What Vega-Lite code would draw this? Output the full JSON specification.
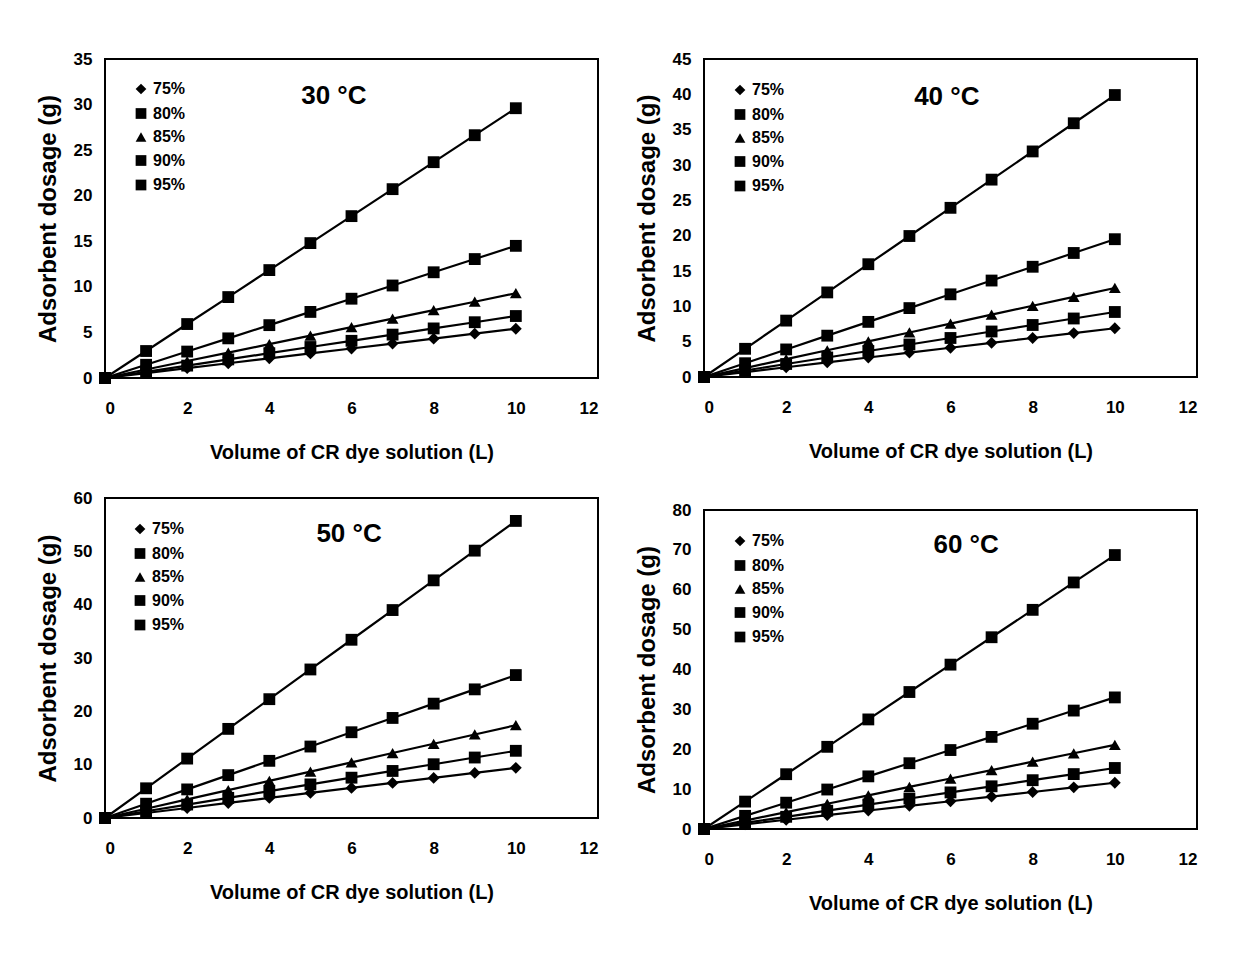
{
  "$schema": "https://vega.github.io/schema/vega-lite/v6.json",
  "padding": {"left": 35, "top": 49, "right": 5, "bottom": 5},
  "background": "white",
  "datasets": {
    "d": [
      {"t":30,"s":"75%","x":0,"y":0},{"t":30,"s":"75%","x":1,"y":0.54},{"t":30,"s":"75%","x":2,"y":1.08},{"t":30,"s":"75%","x":3,"y":1.62},{"t":30,"s":"75%","x":4,"y":2.16},{"t":30,"s":"75%","x":5,"y":2.7},{"t":30,"s":"75%","x":6,"y":3.24},{"t":30,"s":"75%","x":7,"y":3.78},{"t":30,"s":"75%","x":8,"y":4.32},{"t":30,"s":"75%","x":9,"y":4.86},{"t":30,"s":"75%","x":10,"y":5.4},
      {"t":30,"s":"80%","x":0,"y":0},{"t":30,"s":"80%","x":1,"y":0.68},{"t":30,"s":"80%","x":2,"y":1.36},{"t":30,"s":"80%","x":3,"y":2.04},{"t":30,"s":"80%","x":4,"y":2.72},{"t":30,"s":"80%","x":5,"y":3.4},{"t":30,"s":"80%","x":6,"y":4.08},{"t":30,"s":"80%","x":7,"y":4.76},{"t":30,"s":"80%","x":8,"y":5.44},{"t":30,"s":"80%","x":9,"y":6.12},{"t":30,"s":"80%","x":10,"y":6.8},
      {"t":30,"s":"85%","x":0,"y":0},{"t":30,"s":"85%","x":1,"y":0.93},{"t":30,"s":"85%","x":2,"y":1.86},{"t":30,"s":"85%","x":3,"y":2.79},{"t":30,"s":"85%","x":4,"y":3.72},{"t":30,"s":"85%","x":5,"y":4.65},{"t":30,"s":"85%","x":6,"y":5.58},{"t":30,"s":"85%","x":7,"y":6.51},{"t":30,"s":"85%","x":8,"y":7.44},{"t":30,"s":"85%","x":9,"y":8.37},{"t":30,"s":"85%","x":10,"y":9.3},
      {"t":30,"s":"90%","x":0,"y":0},{"t":30,"s":"90%","x":1,"y":1.45},{"t":30,"s":"90%","x":2,"y":2.9},{"t":30,"s":"90%","x":3,"y":4.35},{"t":30,"s":"90%","x":4,"y":5.8},{"t":30,"s":"90%","x":5,"y":7.25},{"t":30,"s":"90%","x":6,"y":8.7},{"t":30,"s":"90%","x":7,"y":10.15},{"t":30,"s":"90%","x":8,"y":11.6},{"t":30,"s":"90%","x":9,"y":13.05},{"t":30,"s":"90%","x":10,"y":14.5},
      {"t":30,"s":"95%","x":0,"y":0},{"t":30,"s":"95%","x":1,"y":2.96},{"t":30,"s":"95%","x":2,"y":5.92},{"t":30,"s":"95%","x":3,"y":8.88},{"t":30,"s":"95%","x":4,"y":11.84},{"t":30,"s":"95%","x":5,"y":14.8},{"t":30,"s":"95%","x":6,"y":17.76},{"t":30,"s":"95%","x":7,"y":20.72},{"t":30,"s":"95%","x":8,"y":23.68},{"t":30,"s":"95%","x":9,"y":26.64},{"t":30,"s":"95%","x":10,"y":29.6},
      {"t":40,"s":"75%","x":0,"y":0},{"t":40,"s":"75%","x":1,"y":0.69},{"t":40,"s":"75%","x":2,"y":1.38},{"t":40,"s":"75%","x":3,"y":2.07},{"t":40,"s":"75%","x":4,"y":2.76},{"t":40,"s":"75%","x":5,"y":3.45},{"t":40,"s":"75%","x":6,"y":4.14},{"t":40,"s":"75%","x":7,"y":4.83},{"t":40,"s":"75%","x":8,"y":5.52},{"t":40,"s":"75%","x":9,"y":6.21},{"t":40,"s":"75%","x":10,"y":6.9},
      {"t":40,"s":"80%","x":0,"y":0},{"t":40,"s":"80%","x":1,"y":0.92},{"t":40,"s":"80%","x":2,"y":1.84},{"t":40,"s":"80%","x":3,"y":2.76},{"t":40,"s":"80%","x":4,"y":3.68},{"t":40,"s":"80%","x":5,"y":4.6},{"t":40,"s":"80%","x":6,"y":5.52},{"t":40,"s":"80%","x":7,"y":6.44},{"t":40,"s":"80%","x":8,"y":7.36},{"t":40,"s":"80%","x":9,"y":8.28},{"t":40,"s":"80%","x":10,"y":9.2},
      {"t":40,"s":"85%","x":0,"y":0},{"t":40,"s":"85%","x":1,"y":1.26},{"t":40,"s":"85%","x":2,"y":2.52},{"t":40,"s":"85%","x":3,"y":3.78},{"t":40,"s":"85%","x":4,"y":5.04},{"t":40,"s":"85%","x":5,"y":6.3},{"t":40,"s":"85%","x":6,"y":7.56},{"t":40,"s":"85%","x":7,"y":8.82},{"t":40,"s":"85%","x":8,"y":10.08},{"t":40,"s":"85%","x":9,"y":11.34},{"t":40,"s":"85%","x":10,"y":12.6},
      {"t":40,"s":"90%","x":0,"y":0},{"t":40,"s":"90%","x":1,"y":1.95},{"t":40,"s":"90%","x":2,"y":3.9},{"t":40,"s":"90%","x":3,"y":5.85},{"t":40,"s":"90%","x":4,"y":7.8},{"t":40,"s":"90%","x":5,"y":9.75},{"t":40,"s":"90%","x":6,"y":11.7},{"t":40,"s":"90%","x":7,"y":13.65},{"t":40,"s":"90%","x":8,"y":15.6},{"t":40,"s":"90%","x":9,"y":17.55},{"t":40,"s":"90%","x":10,"y":19.5},
      {"t":40,"s":"95%","x":0,"y":0},{"t":40,"s":"95%","x":1,"y":3.99},{"t":40,"s":"95%","x":2,"y":7.98},{"t":40,"s":"95%","x":3,"y":11.97},{"t":40,"s":"95%","x":4,"y":15.96},{"t":40,"s":"95%","x":5,"y":19.95},{"t":40,"s":"95%","x":6,"y":23.94},{"t":40,"s":"95%","x":7,"y":27.93},{"t":40,"s":"95%","x":8,"y":31.92},{"t":40,"s":"95%","x":9,"y":35.91},{"t":40,"s":"95%","x":10,"y":39.9},
      {"t":50,"s":"75%","x":0,"y":0},{"t":50,"s":"75%","x":1,"y":0.94},{"t":50,"s":"75%","x":2,"y":1.88},{"t":50,"s":"75%","x":3,"y":2.82},{"t":50,"s":"75%","x":4,"y":3.76},{"t":50,"s":"75%","x":5,"y":4.7},{"t":50,"s":"75%","x":6,"y":5.64},{"t":50,"s":"75%","x":7,"y":6.58},{"t":50,"s":"75%","x":8,"y":7.52},{"t":50,"s":"75%","x":9,"y":8.46},{"t":50,"s":"75%","x":10,"y":9.4},
      {"t":50,"s":"80%","x":0,"y":0},{"t":50,"s":"80%","x":1,"y":1.26},{"t":50,"s":"80%","x":2,"y":2.52},{"t":50,"s":"80%","x":3,"y":3.78},{"t":50,"s":"80%","x":4,"y":5.04},{"t":50,"s":"80%","x":5,"y":6.3},{"t":50,"s":"80%","x":6,"y":7.56},{"t":50,"s":"80%","x":7,"y":8.82},{"t":50,"s":"80%","x":8,"y":10.08},{"t":50,"s":"80%","x":9,"y":11.34},{"t":50,"s":"80%","x":10,"y":12.6},
      {"t":50,"s":"85%","x":0,"y":0},{"t":50,"s":"85%","x":1,"y":1.74},{"t":50,"s":"85%","x":2,"y":3.48},{"t":50,"s":"85%","x":3,"y":5.22},{"t":50,"s":"85%","x":4,"y":6.96},{"t":50,"s":"85%","x":5,"y":8.7},{"t":50,"s":"85%","x":6,"y":10.44},{"t":50,"s":"85%","x":7,"y":12.18},{"t":50,"s":"85%","x":8,"y":13.92},{"t":50,"s":"85%","x":9,"y":15.66},{"t":50,"s":"85%","x":10,"y":17.4},
      {"t":50,"s":"90%","x":0,"y":0},{"t":50,"s":"90%","x":1,"y":2.68},{"t":50,"s":"90%","x":2,"y":5.36},{"t":50,"s":"90%","x":3,"y":8.04},{"t":50,"s":"90%","x":4,"y":10.72},{"t":50,"s":"90%","x":5,"y":13.4},{"t":50,"s":"90%","x":6,"y":16.08},{"t":50,"s":"90%","x":7,"y":18.76},{"t":50,"s":"90%","x":8,"y":21.44},{"t":50,"s":"90%","x":9,"y":24.12},{"t":50,"s":"90%","x":10,"y":26.8},
      {"t":50,"s":"95%","x":0,"y":0},{"t":50,"s":"95%","x":1,"y":5.57},{"t":50,"s":"95%","x":2,"y":11.14},{"t":50,"s":"95%","x":3,"y":16.71},{"t":50,"s":"95%","x":4,"y":22.28},{"t":50,"s":"95%","x":5,"y":27.85},{"t":50,"s":"95%","x":6,"y":33.42},{"t":50,"s":"95%","x":7,"y":38.99},{"t":50,"s":"95%","x":8,"y":44.56},{"t":50,"s":"95%","x":9,"y":50.13},{"t":50,"s":"95%","x":10,"y":55.7},
      {"t":60,"s":"75%","x":0,"y":0},{"t":60,"s":"75%","x":1,"y":1.16},{"t":60,"s":"75%","x":2,"y":2.32},{"t":60,"s":"75%","x":3,"y":3.48},{"t":60,"s":"75%","x":4,"y":4.64},{"t":60,"s":"75%","x":5,"y":5.8},{"t":60,"s":"75%","x":6,"y":6.96},{"t":60,"s":"75%","x":7,"y":8.12},{"t":60,"s":"75%","x":8,"y":9.28},{"t":60,"s":"75%","x":9,"y":10.44},{"t":60,"s":"75%","x":10,"y":11.6},
      {"t":60,"s":"80%","x":0,"y":0},{"t":60,"s":"80%","x":1,"y":1.53},{"t":60,"s":"80%","x":2,"y":3.06},{"t":60,"s":"80%","x":3,"y":4.59},{"t":60,"s":"80%","x":4,"y":6.12},{"t":60,"s":"80%","x":5,"y":7.65},{"t":60,"s":"80%","x":6,"y":9.18},{"t":60,"s":"80%","x":7,"y":10.71},{"t":60,"s":"80%","x":8,"y":12.24},{"t":60,"s":"80%","x":9,"y":13.77},{"t":60,"s":"80%","x":10,"y":15.3},
      {"t":60,"s":"85%","x":0,"y":0},{"t":60,"s":"85%","x":1,"y":2.11},{"t":60,"s":"85%","x":2,"y":4.22},{"t":60,"s":"85%","x":3,"y":6.33},{"t":60,"s":"85%","x":4,"y":8.44},{"t":60,"s":"85%","x":5,"y":10.55},{"t":60,"s":"85%","x":6,"y":12.66},{"t":60,"s":"85%","x":7,"y":14.77},{"t":60,"s":"85%","x":8,"y":16.88},{"t":60,"s":"85%","x":9,"y":18.99},{"t":60,"s":"85%","x":10,"y":21.1},
      {"t":60,"s":"90%","x":0,"y":0},{"t":60,"s":"90%","x":1,"y":3.3},{"t":60,"s":"90%","x":2,"y":6.6},{"t":60,"s":"90%","x":3,"y":9.9},{"t":60,"s":"90%","x":4,"y":13.2},{"t":60,"s":"90%","x":5,"y":16.5},{"t":60,"s":"90%","x":6,"y":19.8},{"t":60,"s":"90%","x":7,"y":23.1},{"t":60,"s":"90%","x":8,"y":26.4},{"t":60,"s":"90%","x":9,"y":29.7},{"t":60,"s":"90%","x":10,"y":33},
      {"t":60,"s":"95%","x":0,"y":0},{"t":60,"s":"95%","x":1,"y":6.87},{"t":60,"s":"95%","x":2,"y":13.74},{"t":60,"s":"95%","x":3,"y":20.61},{"t":60,"s":"95%","x":4,"y":27.48},{"t":60,"s":"95%","x":5,"y":34.35},{"t":60,"s":"95%","x":6,"y":41.22},{"t":60,"s":"95%","x":7,"y":48.09},{"t":60,"s":"95%","x":8,"y":54.96},{"t":60,"s":"95%","x":9,"y":61.83},{"t":60,"s":"95%","x":10,"y":68.7}
    ]
  },
  "spacing": 35,
  "resolve": {"scale": {"x": "independent", "y": "independent", "shape": "independent"}, "legend": {"shape": "independent"}},
  "hconcat": [
    {
      "spacing": 25,
      "resolve": {"scale": {"x": "independent", "y": "independent", "shape": "independent"}, "legend": {"shape": "independent"}},
      "vconcat": [
        {
          "width": 493, "height": 319,
          "view": {"stroke": "black", "strokeWidth": 2},
          "layer": [
            {"data": {"name": "d"}, "transform": [{"filter": "datum.t == 30"}],
             "mark": {"type": "line", "color": "black", "strokeWidth": 2.2},
             "encoding": {
               "x": {"field": "x", "type": "quantitative", "scale": {"domain": [0, 12], "nice": false}, "axis": {"values": [0,2,4,6,8,10,12], "title": "Volume of CR dye solution (L)"}},
               "y": {"field": "y", "type": "quantitative", "scale": {"domain": [0, 35], "nice": false}, "axis": {"values": [0,5,10,15,20,25,30,35], "title": "Adsorbent dosage (g)"}},
               "detail": {"field": "s"}}},
            {"data": {"name": "d"}, "transform": [{"filter": "datum.t == 30"}],
             "mark": {"type": "point", "filled": true, "color": "black", "opacity": 1, "size": 140},
             "encoding": {
               "x": {"field": "x", "type": "quantitative", "scale": {"domain": [0, 12], "nice": false}, "axis": {"values": [0,2,4,6,8,10,12], "title": "Volume of CR dye solution (L)"}},
               "y": {"field": "y", "type": "quantitative", "scale": {"domain": [0, 35], "nice": false}, "axis": {"values": [0,5,10,15,20,25,30,35], "title": "Adsorbent dosage (g)"}},
               "shape": {"field": "s", "type": "nominal", "scale": {"domain": ["75%","80%","85%","90%","95%"], "range": ["diamond","square","triangle-up","square","square"]}, "legend": {"title": null, "orient": "none", "legendX": 28, "legendY": 22}}}},
            {"data": {"values": [{"label": "30 °C"}]},
             "mark": {"type": "text", "font": "Liberation Sans", "fontSize": 26, "fontWeight": "bold", "color": "black", "align": "center", "baseline": "middle"},
             "encoding": {
               "x": {"datum": 5.57, "type": "quantitative", "axis": {"values": [0,2,4,6,8,10,12], "title": "Volume of CR dye solution (L)"}},
               "y": {"datum": 30.9, "type": "quantitative", "axis": {"values": [0,5,10,15,20,25,30,35], "title": "Adsorbent dosage (g)"}},
               "text": {"field": "label"}}}
          ]
        },
        {
          "width": 493, "height": 320,
          "view": {"stroke": "black", "strokeWidth": 2},
          "layer": [
            {"data": {"name": "d"}, "transform": [{"filter": "datum.t == 50"}],
             "mark": {"type": "line", "color": "black", "strokeWidth": 2.2},
             "encoding": {
               "x": {"field": "x", "type": "quantitative", "scale": {"domain": [0, 12], "nice": false}, "axis": {"values": [0,2,4,6,8,10,12], "title": "Volume of CR dye solution (L)"}},
               "y": {"field": "y", "type": "quantitative", "scale": {"domain": [0, 60], "nice": false}, "axis": {"values": [0,10,20,30,40,50,60], "title": "Adsorbent dosage (g)"}},
               "detail": {"field": "s"}}},
            {"data": {"name": "d"}, "transform": [{"filter": "datum.t == 50"}],
             "mark": {"type": "point", "filled": true, "color": "black", "opacity": 1, "size": 140},
             "encoding": {
               "x": {"field": "x", "type": "quantitative", "scale": {"domain": [0, 12], "nice": false}, "axis": {"values": [0,2,4,6,8,10,12], "title": "Volume of CR dye solution (L)"}},
               "y": {"field": "y", "type": "quantitative", "scale": {"domain": [0, 60], "nice": false}, "axis": {"values": [0,10,20,30,40,50,60], "title": "Adsorbent dosage (g)"}},
               "shape": {"field": "s", "type": "nominal", "scale": {"domain": ["75%","80%","85%","90%","95%"], "range": ["diamond","square","triangle-up","square","square"]}, "legend": {"title": null, "orient": "none", "legendX": 27, "legendY": 23}}}},
            {"data": {"values": [{"label": "50 °C"}]},
             "mark": {"type": "text", "font": "Liberation Sans", "fontSize": 26, "fontWeight": "bold", "color": "black", "align": "center", "baseline": "middle"},
             "encoding": {
               "x": {"datum": 5.94, "type": "quantitative", "axis": {"values": [0,2,4,6,8,10,12], "title": "Volume of CR dye solution (L)"}},
               "y": {"datum": 53.2, "type": "quantitative", "axis": {"values": [0,10,20,30,40,50,60], "title": "Adsorbent dosage (g)"}},
               "text": {"field": "label"}}}
          ]
        }
      ]
    },
    {
      "spacing": 38,
      "resolve": {"scale": {"x": "independent", "y": "independent", "shape": "independent"}, "legend": {"shape": "independent"}},
      "vconcat": [
        {
          "width": 493, "height": 318,
          "view": {"stroke": "black", "strokeWidth": 2},
          "layer": [
            {"data": {"name": "d"}, "transform": [{"filter": "datum.t == 40"}],
             "mark": {"type": "line", "color": "black", "strokeWidth": 2.2},
             "encoding": {
               "x": {"field": "x", "type": "quantitative", "scale": {"domain": [0, 12], "nice": false}, "axis": {"values": [0,2,4,6,8,10,12], "title": "Volume of CR dye solution (L)"}},
               "y": {"field": "y", "type": "quantitative", "scale": {"domain": [0, 45], "nice": false}, "axis": {"values": [0,5,10,15,20,25,30,35,40,45], "title": "Adsorbent dosage (g)"}},
               "detail": {"field": "s"}}},
            {"data": {"name": "d"}, "transform": [{"filter": "datum.t == 40"}],
             "mark": {"type": "point", "filled": true, "color": "black", "opacity": 1, "size": 140},
             "encoding": {
               "x": {"field": "x", "type": "quantitative", "scale": {"domain": [0, 12], "nice": false}, "axis": {"values": [0,2,4,6,8,10,12], "title": "Volume of CR dye solution (L)"}},
               "y": {"field": "y", "type": "quantitative", "scale": {"domain": [0, 45], "nice": false}, "axis": {"values": [0,5,10,15,20,25,30,35,40,45], "title": "Adsorbent dosage (g)"}},
               "shape": {"field": "s", "type": "nominal", "scale": {"domain": ["75%","80%","85%","90%","95%"], "range": ["diamond","square","triangle-up","square","square"]}, "legend": {"title": null, "orient": "none", "legendX": 28, "legendY": 23}}}},
            {"data": {"values": [{"label": "40 °C"}]},
             "mark": {"type": "text", "font": "Liberation Sans", "fontSize": 26, "fontWeight": "bold", "color": "black", "align": "center", "baseline": "middle"},
             "encoding": {
               "x": {"datum": 5.91, "type": "quantitative", "axis": {"values": [0,2,4,6,8,10,12], "title": "Volume of CR dye solution (L)"}},
               "y": {"datum": 39.6, "type": "quantitative", "axis": {"values": [0,5,10,15,20,25,30,35,40,45], "title": "Adsorbent dosage (g)"}},
               "text": {"field": "label"}}}
          ]
        },
        {
          "width": 493, "height": 319,
          "view": {"stroke": "black", "strokeWidth": 2},
          "layer": [
            {"data": {"name": "d"}, "transform": [{"filter": "datum.t == 60"}],
             "mark": {"type": "line", "color": "black", "strokeWidth": 2.2},
             "encoding": {
               "x": {"field": "x", "type": "quantitative", "scale": {"domain": [0, 12], "nice": false}, "axis": {"values": [0,2,4,6,8,10,12], "title": "Volume of CR dye solution (L)"}},
               "y": {"field": "y", "type": "quantitative", "scale": {"domain": [0, 80], "nice": false}, "axis": {"values": [0,10,20,30,40,50,60,70,80], "title": "Adsorbent dosage (g)"}},
               "detail": {"field": "s"}}},
            {"data": {"name": "d"}, "transform": [{"filter": "datum.t == 60"}],
             "mark": {"type": "point", "filled": true, "color": "black", "opacity": 1, "size": 140},
             "encoding": {
               "x": {"field": "x", "type": "quantitative", "scale": {"domain": [0, 12], "nice": false}, "axis": {"values": [0,2,4,6,8,10,12], "title": "Volume of CR dye solution (L)"}},
               "y": {"field": "y", "type": "quantitative", "scale": {"domain": [0, 80], "nice": false}, "axis": {"values": [0,10,20,30,40,50,60,70,80], "title": "Adsorbent dosage (g)"}},
               "shape": {"field": "s", "type": "nominal", "scale": {"domain": ["75%","80%","85%","90%","95%"], "range": ["diamond","square","triangle-up","square","square"]}, "legend": {"title": null, "orient": "none", "legendX": 28, "legendY": 23}}}},
            {"data": {"values": [{"label": "60 °C"}]},
             "mark": {"type": "text", "font": "Liberation Sans", "fontSize": 26, "fontWeight": "bold", "color": "black", "align": "center", "baseline": "middle"},
             "encoding": {
               "x": {"datum": 6.38, "type": "quantitative", "axis": {"values": [0,2,4,6,8,10,12], "title": "Volume of CR dye solution (L)"}},
               "y": {"datum": 71.2, "type": "quantitative", "axis": {"values": [0,10,20,30,40,50,60,70,80], "title": "Adsorbent dosage (g)"}},
               "text": {"field": "label"}}}
          ]
        }
      ]
    }
  ],
  "config": {
    "view": {"stroke": null},
    "font": "Liberation Sans",
    "axis": {"ticks": false, "domain": false, "grid": false, "labelOverlap": false, "labelFont": "Liberation Sans", "labelFontSize": 17, "labelFontWeight": "bold", "labelColor": "black", "titleColor": "black"},
    "axisX": {"labelPadding": 22, "titlePadding": 26, "titleFont": "Liberation Sans", "titleFontSize": 20, "titleFontWeight": "bold"},
    "axisY": {"labelPadding": 13, "titlePadding": 13, "titleFont": "Liberation Sans", "titleFontSize": 24, "titleFontWeight": "bold"},
    "legend": {"labelFont": "Liberation Sans", "labelFontSize": 16, "labelFontWeight": "bold", "labelColor": "black", "symbolSize": 115, "rowPadding": 6.5, "labelOffset": 4, "padding": 0, "symbolFillColor": "black", "symbolStrokeColor": "black"}
  }
}
